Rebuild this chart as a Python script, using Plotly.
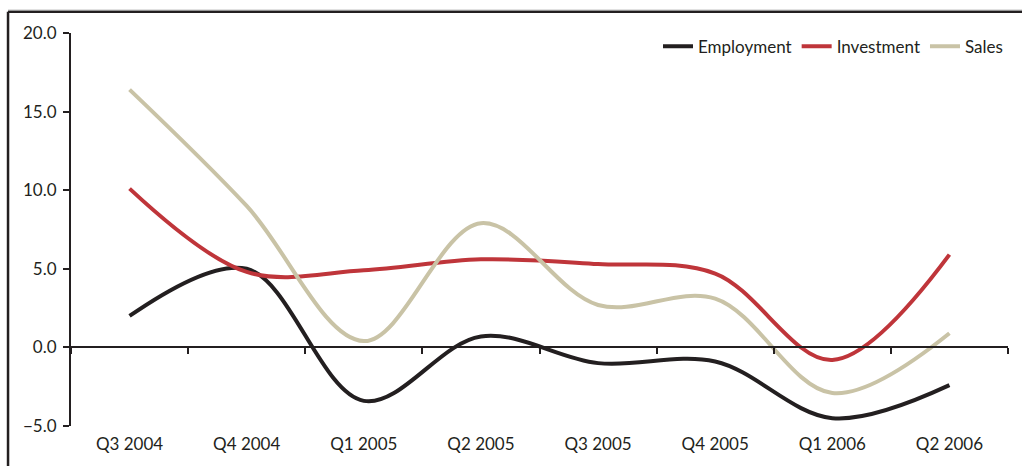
import plotly.graph_objects as go

# Quarterly survey balances
quarters = ["Q3 2004", "Q4 2004", "Q1 2005", "Q2 2005",
            "Q3 2005", "Q4 2005", "Q1 2006", "Q2 2006"]
employment = [2.0, 5.0, -3.4, 0.7, -1.0, -0.9, -4.5, -2.4]
investment = [10.1, 4.8, 4.9, 5.6, 5.3, 4.7, -0.8, 5.9]
sales = [16.4, 9.0, 0.4, 7.9, 2.7, 3.1, -2.9, 0.9]

y_ticks = [-5, 0, 5, 10, 15, 20]

FONT = "Lato"
INK = "#231f20"

series = [
    ("Employment", employment, "#231f20"),
    ("Investment", investment, "#bf353a"),
    ("Sales", sales, "#c9c3a6"),
]

fig = go.Figure()
for name, vals, color in series:
    fig.add_trace(go.Scatter(
        x=quarters, y=vals, name=name, mode="lines",
        line=dict(color=color, width=4, shape="spline", smoothing=1.0),
    ))

# carrier trace for the zero-level category axis
fig.add_trace(go.Scatter(x=quarters, y=[None] * len(quarters), xaxis="x2",
                         showlegend=False, hoverinfo="skip"))

y_min, y_max = y_ticks[0], y_ticks[-1]
zero_pos = (0 - y_min) / (y_max - y_min)

fig.update_layout(
    width=1022, height=466,
    margin=dict(l=71, r=14, t=33, b=40),
    paper_bgcolor="white", plot_bgcolor="white",
    font=dict(family=FONT, size=17, color=INK),
    showlegend=True,
    legend=dict(orientation="h", x=1.0, xanchor="right", y=0.965, yanchor="middle",
                font=dict(family=FONT, size=17, color=INK),
                bgcolor="rgba(0,0,0,0)", itemwidth=30, tracegroupgap=0),
    xaxis=dict(type="category", categoryorder="array", categoryarray=quarters,
               range=[-0.5, len(quarters) - 0.5],
               showline=False, showgrid=False, zeroline=False, ticks="",
               ticklabelstandoff=6, tickfont=dict(family=FONT, size=17, color=INK)),
    xaxis2=dict(type="category", categoryorder="array", categoryarray=quarters,
                range=[-0.5, len(quarters) - 0.5], overlaying="x", anchor="free",
                position=zero_pos, side="bottom", tickson="boundaries",
                ticks="outside", ticklen=6, tickwidth=2, tickcolor=INK,
                showline=True, linecolor=INK, linewidth=2,
                showticklabels=False, showgrid=False, zeroline=False),
    yaxis=dict(range=[y_min, y_max], tickvals=y_ticks, tickformat=".1f",
               ticks="outside", ticklen=6, tickwidth=2, tickcolor=INK,
               showline=True, linecolor=INK, linewidth=2,
               showgrid=False, zeroline=False, ticklabelstandoff=3,
               tickfont=dict(family=FONT, size=17, color=INK)),
    shapes=[
        # outer frame: left rule and top rule
        dict(type="line", xref="paper", yref="paper", x0=-0.0672, x1=-0.0672,
             y0=-0.2, y1=1.054, line=dict(color=INK, width=2.5)),
        dict(type="line", xref="paper", yref="paper", x0=-0.0672, x1=1.02,
             y0=1.054, y1=1.054, line=dict(color=INK, width=2.5)),
        dict(type="line", xref="paper", yref="paper", x0=-0.0672, x1=1.02,
             y0=1.058, y1=1.058, line=dict(color="#9a9a9a", width=1)),
    ],
)

fig.write_html("out.html")
